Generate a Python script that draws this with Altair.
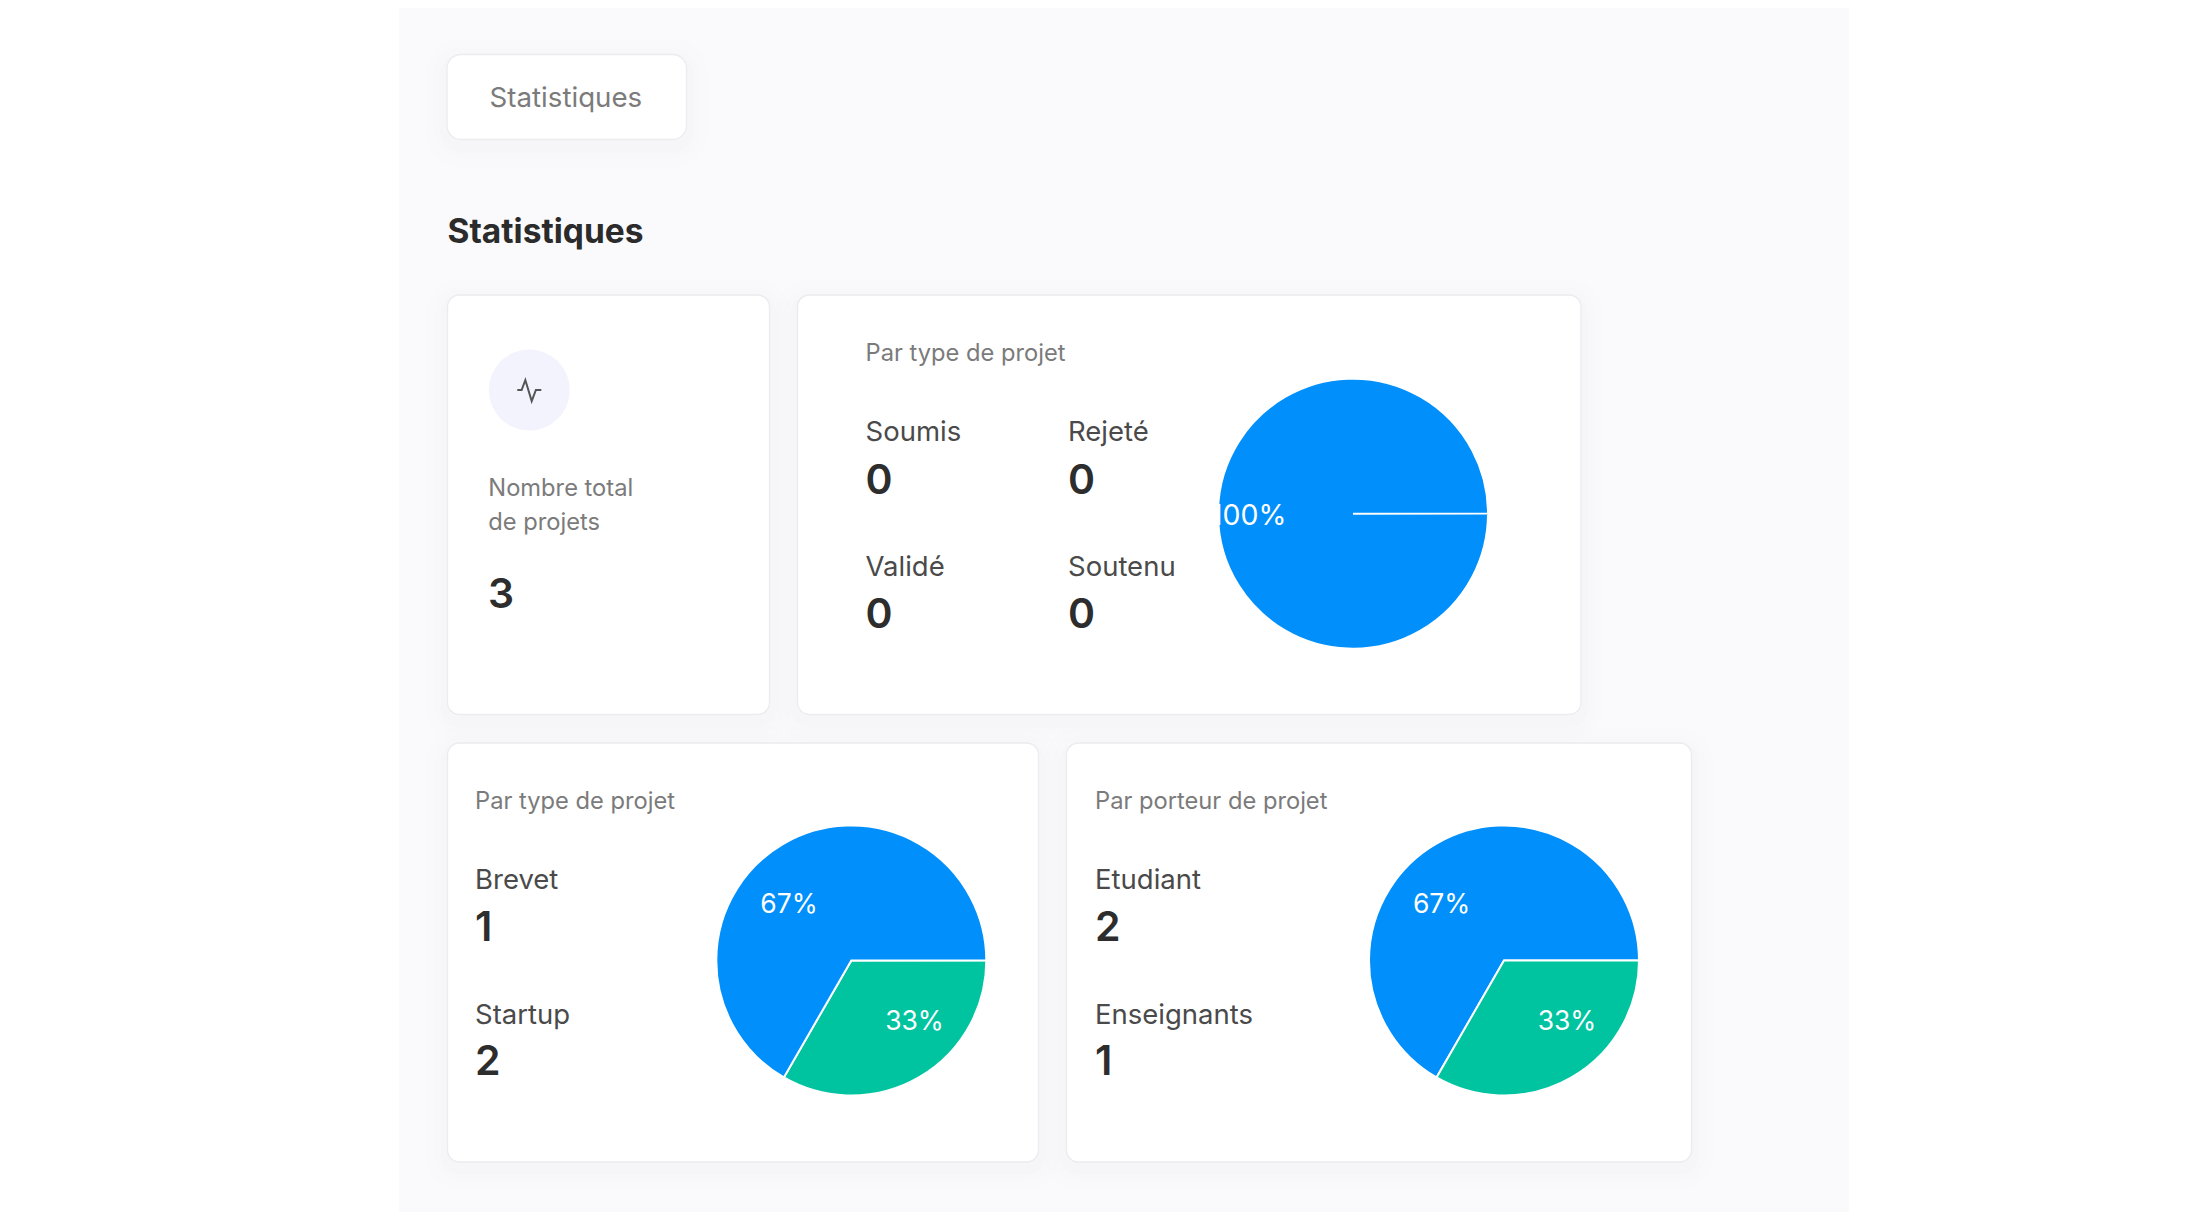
import altair as alt
import pandas as pd
import math

PAGE = "Statistiques"
STATUS = ["Soumis", "Rejeté", "Validé", "Soutenu"]
STATUS_VALUES = [0, 0, 0, 0]
TOTAL_LABEL = ["Nombre total", "de projets"]
TOTAL = 3
TYPE_NAMES = ["Brevet", "Startup"]
TYPE_VALUES = [1, 2]
OWNER_NAMES = ["Etudiant", "Enseignants"]
OWNER_VALUES = [2, 1]

BLUE = "#008ffb"
GREEN = "#00c4a0"
FONT = "Inter"
W, H = 2184, 1204
OFF = 8


def px(v):
    return alt.value(v - OFF)


def box(x0, y0, x1, y1, fill, radius=0, stroke=None, opacity=1):
    kw = dict(fill=fill, cornerRadius=radius, opacity=opacity)
    if stroke:
        kw.update(stroke=stroke, strokeWidth=1.3)
    return alt.Chart().mark_rect(**kw).encode(x=px(x0), x2=px(x1), y=px(y0), y2=px(y1))


def card(x0, y0, x1, y1, radius=12):
    out = []
    for spread, op in ((22, 0.004), (14, 0.005), (7, 0.006)):
        out.append(box(x0 - spread, y0 - spread + 6, x1 + spread, y1 + spread + 6, "#3a3a5a",
                       radius + spread, opacity=op))
    out.append(box(x0, y0, x1, y1, "#ffffff", radius, stroke="#ebebf0"))
    return out


def label(text, x, y, size, color, weight=400, align="left"):
    return alt.Chart().mark_text(
        text=str(text), font=FONT, fontSize=size, fontWeight=weight, color=color,
        align=align, baseline="alphabetic",
    ).encode(x=px(x), y=px(y))


def title(text, x, y):
    return label(text, x, y, 23.7, "#7b7b7b", 400)


def stat(name, value, x, y_name, y_value):
    return [label(name, x, y_name, 27.5, "#4a4a4a", 400),
            label(value, x, y_value, 41, "#2d2d2d", 600)]


def pie(names, values, cx, cy, r):
    df = pd.DataFrame({"name": names, "value": values})
    return alt.Chart(df).mark_arc(
        outerRadius=r, stroke="#ffffff", strokeWidth=2
    ).encode(
        theta=alt.Theta("value:Q", stack=True,
                        scale=alt.Scale(domain=[0, TOTAL],
                                        range=[math.pi / 2, math.pi * 2.5 - 0.001])),
        order=alt.Order("value:Q"),
        color=alt.Color("name:N", legend=None,
                        scale=alt.Scale(domain=["Total"] + TYPE_NAMES + OWNER_NAMES,
                                        range=[BLUE, GREEN, BLUE, BLUE, GREEN])),
        x=px(cx), y=px(cy),
    )


def pct(v):
    return f"{round(v / TOTAL * 100)}%"


layers = [box(399, 0, 1849, 1220, "#fafafc")]

layers += card(447, 54.5, 686.5, 139.5, 14)
layers += [label(PAGE, 489.5, 107, 27.7, "#7b7b7b", 400)]
layers += [label(PAGE, 447.5, 242.5, 33.5, "#2b2b2b", 700)]

layers += card(447.5, 295, 769.5, 714.5)
layers += [alt.Chart().mark_circle(size=81 ** 2, fill="#f3f3fd", opacity=1).encode(x=px(529.3), y=px(390))]
layers += [alt.Chart().mark_point(
    shape="M-1 0 L-0.64 0 L-0.33 -0.83 L0.2 0.92 L0.55 0 L1 0",
    size=576, filled=False, stroke="#555555", strokeWidth=2, opacity=1,
).encode(x=px(529.3), y=px(390))]
layers += [title(TOTAL_LABEL[0], 488.3, 496), title(TOTAL_LABEL[1], 488.3, 530)]
layers += [label(TOTAL, 488, 608, 41, "#2d2d2d", 600)]

layers += card(797.5, 295, 1581, 714.5)
layers += [title("Par type de projet", 865.5, 361)]
layers += stat(STATUS[0], STATUS_VALUES[0], 865.5, 441, 493.6)
layers += stat(STATUS[1], STATUS_VALUES[1], 1068, 441, 493.6)
layers += stat(STATUS[2], STATUS_VALUES[2], 865.5, 575.5, 628)
layers += stat(STATUS[3], STATUS_VALUES[3], 1068, 575.5, 628)
layers += [pie(["Total"], [TOTAL], 1353, 513.7, 135)]
layers += [label("100%", 1286.5, 525, 28.5, "#ffffff", 400, "right")]

layers += card(447.5, 743, 1038.5, 1162)
layers += [title("Par type de projet", 475, 808.5)]
layers += stat(TYPE_NAMES[0], TYPE_VALUES[0], 475, 888.5, 941)
layers += stat(TYPE_NAMES[1], TYPE_VALUES[1], 475, 1023.5, 1075)
layers += [pie(TYPE_NAMES, TYPE_VALUES, 851.3, 960.5, 135)]
layers += [label(pct(TYPE_VALUES[1]), 789, 913, 26.5, "#ffffff", 400, "center"),
           label(pct(TYPE_VALUES[0]), 914.5, 1030, 26.5, "#ffffff", 400, "center")]

layers += card(1066.5, 743, 1691.5, 1162)
layers += [title("Par porteur de projet", 1095, 808.5)]
layers += stat(OWNER_NAMES[0], OWNER_VALUES[0], 1095, 888.5, 941)
layers += stat(OWNER_NAMES[1], OWNER_VALUES[1], 1095, 1023.5, 1075)
layers += [pie(OWNER_NAMES, OWNER_VALUES, 1504, 960.5, 135)]
layers += [label(pct(OWNER_VALUES[0]), 1441.6, 913, 26.5, "#ffffff", 400, "center"),
           label(pct(OWNER_VALUES[1]), 1567, 1030, 26.5, "#ffffff", 400, "center")]

chart = alt.layer(*layers).properties(
    width=W, height=H, padding=0, autosize=alt.AutoSizeParams(type="none"), background="#ffffff"
).configure_view(stroke=None)

chart.save("out.html", embed_options={"renderer": "svg", "actions": False})
